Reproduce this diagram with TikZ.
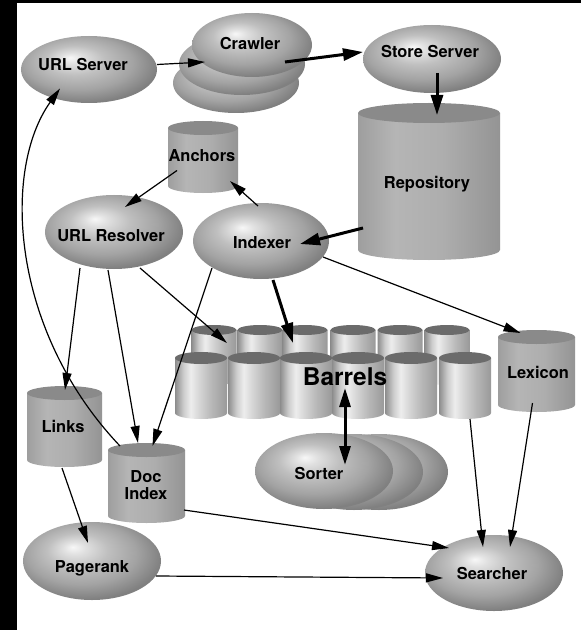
\documentclass[tikz,border=0pt]{standalone}
\usepackage{fontspec}
\setmainfont{TeX Gyre Heros}
\usetikzlibrary{shapes.geometric,arrows.meta,calc}

\definecolor{e0}{gray}{0.97}
\definecolor{e1}{gray}{0.88}
\definecolor{e2}{gray}{0.75}
\definecolor{e3}{gray}{0.64}
\definecolor{e4}{gray}{0.50}
\definecolor{c1}{gray}{0.62}
\definecolor{c2}{gray}{0.71}
\definecolor{c3}{gray}{0.68}
\definecolor{c4}{gray}{0.58}
\definecolor{cyltop}{gray}{0.54}
\definecolor{b1}{gray}{0.55}
\definecolor{b2}{gray}{0.80}
\definecolor{b3}{gray}{0.93}
\definecolor{b4}{gray}{0.84}
\definecolor{b5}{gray}{0.72}
\definecolor{b6}{gray}{0.60}
\definecolor{bartop}{gray}{0.42}

\pgfdeclareradialshading{procshade}{\pgfpoint{-7bp}{9bp}}{color(0bp)=(e0); color(4bp)=(e1); color(11bp)=(e2); color(20bp)=(e3); color(28bp)=(e4); color(45bp)=(e4)}
\pgfdeclarehorizontalshading{cylshade}{100bp}{color(0bp)=(c1); color(25bp)=(c1); color(38bp)=(c2); color(55bp)=(c3); color(75bp)=(c4); color(100bp)=(c4)}
\pgfdeclarehorizontalshading{barshade}{100bp}{color(0bp)=(b1); color(25bp)=(b1); color(33bp)=(b2); color(40bp)=(b3); color(48bp)=(b4); color(60bp)=(b5); color(75bp)=(b6); color(100bp)=(b6)}

% name, cx, top-centre y, bottom-centre y, half width, y radius, kind (cyl/bar)
\newcommand\drum[7]{%
  \path[shade, shading=#7shade] ({#2-#5},{#3}) -- ({#2-#5},{#4})
     arc[start angle=180, end angle=360, x radius=#5bp, y radius=#6bp] -- ({#2+#5},{#3}) -- cycle;
  \path[fill=#7top] (#2,#3) ellipse[x radius=#5bp, y radius=#6bp];
  \node[inner sep=0pt, outer sep=0pt, minimum width={2*#5bp}, minimum height={(#4-#3+#6)*1bp}, anchor=north] (#1) at (#2,#3) {};
}

\tikzset{
  proc/.style={ellipse, inner sep=0pt, outer sep=0pt, shade, shading=procshade},
  lbl/.style={font=\bfseries\fontsize{16.5}{18}\selectfont, inner sep=0pt, text height=12bp, text depth=0pt, text=black},
  biglbl/.style={font=\bfseries\fontsize{24.5}{26}\selectfont, inner sep=0pt, text height=17.5bp, text depth=0pt, text=black},
  ar/.style={line width=1.2bp, -{Triangle[length=17bp, width=9bp]}},
  thk/.style={line width=3bp, -{Triangle[length=20bp, width=12bp]}},
  dbl/.style={line width=3bp, {Triangle[length=19bp, width=11bp]}-{Triangle[length=19bp, width=11bp]}},
}

\begin{document}
\begin{tikzpicture}[x=1bp, y=-1bp]
\useasboundingbox (0,0) rectangle (581,630);
\fill[black] (0,0) rectangle (581,630);
\fill[white] (17,3) rectangle (581,630);

% process ellipses
\node[proc, minimum width=136bp, minimum height=67bp] (urlserver) at (89,69.5) {};
\node[proc, minimum width=126bp, minimum height=60bp] (crawler3) at (236,83) {};
\node[proc, minimum width=126bp, minimum height=62bp] (crawler2) at (242,64) {};
\node[proc, minimum width=120bp, minimum height=64bp] (crawler) at (252,45) {};
\node[proc, minimum width=138bp, minimum height=68bp] (storeserver) at (432,59) {};
\node[proc, minimum width=138bp, minimum height=74bp] (urlresolver) at (114,232) {};
\node[proc, minimum width=136bp, minimum height=76bp] (indexer) at (261,241) {};
\node[proc, minimum width=138bp, minimum height=76bp] (sorter3) at (379,472) {};
\node[proc, minimum width=138bp, minimum height=76bp] (sorter2) at (354,472) {};
\node[proc, minimum width=138bp, minimum height=76bp] (sorter) at (324,471) {};
\node[proc, minimum width=138bp, minimum height=78bp] (pagerank) at (92,561) {};
\node[proc, minimum width=138bp, minimum height=76bp] (searcher) at (494,573) {};

% data stores
\drum{repository}{429}{113}{250}{71}{10}{cyl}
\drum{anchors}{203}{128}{186}{35}{7}{cyl}
\drum{lexicon}{536.5}{337}{405}{38.5}{7}{cyl}
\drum{links}{64.5}{393}{460}{37.5}{7}{cyl}
\drum{docindex}{146.5}{450}{516}{38.5}{7}{cyl}

% barrels: back row, then front row
\drum{bA1}{214}{330}{380}{22.5}{5}{bar}
\drum{bA2}{260}{330}{380}{22.5}{5}{bar}
\drum{bA3}{305}{330}{380}{22.5}{5}{bar}
\drum{bA4}{353}{330}{380}{22.5}{5}{bar}
\drum{bA5}{400}{330}{380}{22.5}{5}{bar}
\drum{bA6}{447}{330}{380}{22.5}{5}{bar}
\drum{bB1}{201}{358}{413}{26}{6}{bar}
\drum{bB2}{254}{358}{413}{26}{6}{bar}
\drum{bB3}{306}{358}{413}{26}{6}{bar}
\drum{bB4}{358}{358}{413}{26}{6}{bar}
\drum{bB5}{411}{358}{413}{26}{6}{bar}
\drum{bB6}{465}{358}{413}{26}{6}{bar}

% labels
\node[lbl] (urlserverT) at (83,65) {URL Server};
\node[lbl] (crawlerT) at (250,44) {Crawler};
\node[lbl] (storeserverT) at (430,52) {Store Server};
\node[lbl] (repositoryT) at (427,183) {Repository};
\node[lbl] (anchorsT) at (202,156) {Anchors};
\node[lbl] (urlresolverT) at (111,235) {URL Resolver};
\node[lbl] (indexerT) at (262,242) {Indexer};
\node[biglbl] (barrelsT) at (345,377) {Barrels};
\node[lbl] (lexiconT) at (538,372) {Lexicon};
\node[lbl] (sorterT) at (319,473) {Sorter};
\node[lbl] (linksT) at (63,426) {Links};
\node[lbl, align=center] (docindexT) at (146,493) {Doc\\[-1.5bp]Index};
\node[lbl] (pagerankT) at (92,566) {Pagerank};
\node[lbl] (searcherT) at (492,573) {Searcher};

% connectors
\draw[ar] ($(urlserver.east)+(0,-5)$) -- ($(crawler.west)+(13,17)$);
\draw[thk] ($(crawler.center)+(33,17)$) -- ($(storeserver.west)+(0,-7)$);
\draw[thk] ($(storeserver.center)+(5,14)$) -- ($(repository.north)+(8,2)$);
\draw[thk] ($(repository.west)+(5,41.5)$) -- ($(indexer.center)+(39,3)$);
\draw[ar] ($(indexer.center)+(-3,-35)$) -- ($(anchors.center)+(27,20.5)$);
\draw[ar] ($(anchors.center)+(-26,10)$) -- ($(urlresolver.center)+(11,-25)$);
\draw[ar] ($(urlresolver.center)+(-34,36)$) -- ($(links.north)+(0.5,-3)$);
\draw[ar] ($(urlresolver.center)+(-6,38)$) -- ($(docindex.north)+(-8.5,-7)$);
\draw[ar] ($(urlresolver.center)+(26,36)$) -- ($(bA1.north)+(13,13)$);
\draw[ar] ($(indexer.center)+(-49,27)$) -- ($(docindex.north)+(6,-4)$);
\draw[thk] ($(indexer.center)+(12,39)$) -- ($(bA3.north)+(-12,13)$);
\draw[ar] ($(indexer.center)+(62,16)$) -- ($(lexicon.north)+(-16,-4)$);
\draw[ar] ($(docindex.north west)+(12,-4)$) .. controls ($(docindex.north west)+(-98,-120)$) and ($(urlserver.center)+(-87,100)$) .. ($(urlserver.center)+(-29,19)$);
\draw[dbl] ($(barrelsT.center)+(0,11)$) -- ($(sorter.center)+(21,-6)$);
\draw[ar] ($(links.south)+(-2.5,1)$) -- ($(pagerank.center)+(-4,-18)$);
\draw[ar] ($(docindex.east)+(-1,23.5)$) -- ($(searcher.center)+(-45,-25)$);
\draw[ar] ($(pagerank.center)+(64,15)$) -- ($(searcher.center)+(-51,5)$);
\draw[ar] ($(bB6.south)+(5,0)$) -- ($(searcher.center)+(-11,-26)$);
\draw[ar] ($(lexicon.south)+(-4,-9)$) -- ($(searcher.center)+(16,-26)$);
\end{tikzpicture}
\end{document}
